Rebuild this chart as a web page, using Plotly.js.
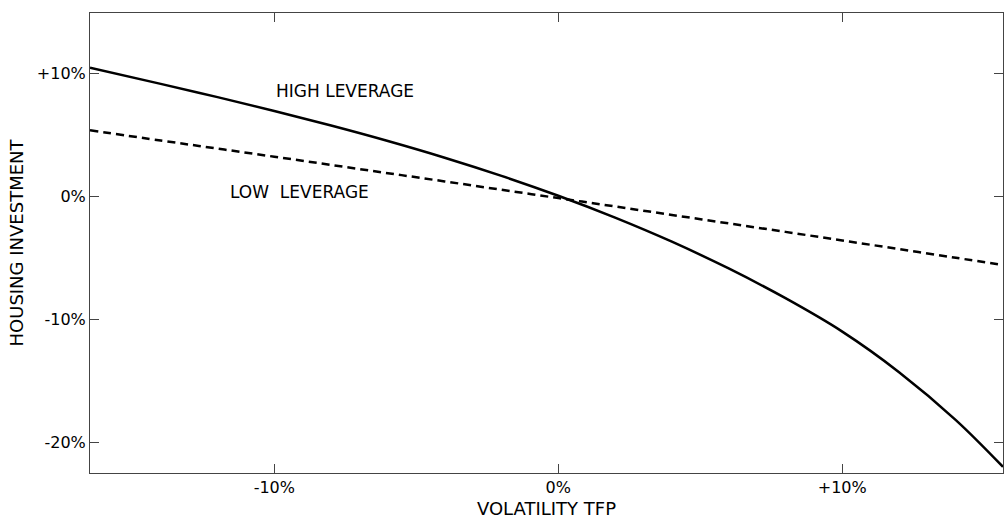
<!DOCTYPE html>
<html>
<head>
<meta charset="utf-8">
<script src="https://cdn.plot.ly/plotly-3.0.1.min.js"></script>
<style>html,body{margin:0;padding:0;background:#fff;}#chart{width:1004px;height:519px;}</style>
</head>
<body>
<div id="chart"></div>
<script>
// Volatility of TFP (%)
const volatilityTFP = [-16.49, -14, -12, -10, -8, -6, -4, -2, 0, 2, 4, 6, 8, 10, 12, 14, 15.66];
// Housing investment response (%)
const highLeverage = [10.5, 9.18, 8.10, 6.97, 5.79, 4.53, 3.17, 1.69, 0.07, -1.71, -3.67, -5.85, -8.27, -10.99, -14.29, -18.19, -22.0];
const lowLeverage = [5.4, 4.57, 3.91, 3.25, 2.58, 1.91, 1.24, 0.56, -0.12, -0.80, -1.49, -2.18, -2.87, -3.57, -4.27, -4.98, -5.57];

const xTickVals = [-10, 0, 10];
const xTickText = ['-10%', '0%', '+10%'];
const yTickVals = [10, 0, -10, -20];
const yTickText = ['+10%', '0%', '-10%', '-20%'];

const fam = 'DejaVu Sans, Verdana, sans-serif';
const tickFont = {family: fam, size: 16, color: '#000'};
const labelFont = {family: fam, size: 17, color: '#000'};
const titleFont = {family: fam, size: 18, color: '#000'};

const traces = [
  {x: volatilityTFP, y: highLeverage, type: 'scatter', mode: 'lines', name: 'HIGH LEVERAGE',
   line: {color: '#000', width: 2.5, shape: 'spline'}},
  {x: volatilityTFP, y: lowLeverage, type: 'scatter', mode: 'lines', name: 'LOW LEVERAGE',
   line: {color: '#000', width: 2.5, dash: '8px,5px', shape: 'spline'}}
];

const axisCommon = {
  showgrid: false, zeroline: false, showline: true, linecolor: '#444', linewidth: 1,
  mirror: 'ticks', ticks: 'inside', ticklen: 9, tickcolor: '#444', tickwidth: 1,
  tickfont: tickFont
};

const layout = {
  width: 1004, height: 519,
  margin: {l: 90, r: 1, t: 13, b: 46},
  paper_bgcolor: '#fff', plot_bgcolor: '#fff',
  showlegend: false,
  font: tickFont,
  xaxis: Object.assign({}, axisCommon, {
    range: [-16.49, 15.66], tickmode: 'array', tickvals: xTickVals, ticktext: xTickText,
    title: {text: 'VOLATILITY TFP', font: titleFont, standoff: 6}
  }),
  yaxis: Object.assign({}, axisCommon, {
    range: [-22.5, 14.95], tickmode: 'array', tickvals: yTickVals, ticktext: yTickText,
    title: {text: 'HOUSING INVESTMENT', font: titleFont, standoff: 8}
  }),
  annotations: [
    {x: -10.0, y: 8.6, xref: 'x', yref: 'y', text: 'HIGH LEVERAGE', showarrow: false,
     xanchor: 'left', yanchor: 'middle', font: labelFont},
    {x: -11.63, y: 0.34, xref: 'x', yref: 'y', text: 'LOW&nbsp;&nbsp;LEVERAGE', showarrow: false,
     xanchor: 'left', yanchor: 'middle', font: labelFont}
  ]
};

Plotly.newPlot('chart', traces, layout, {displayModeBar: false, staticPlot: true});
</script>
</body>
</html>
